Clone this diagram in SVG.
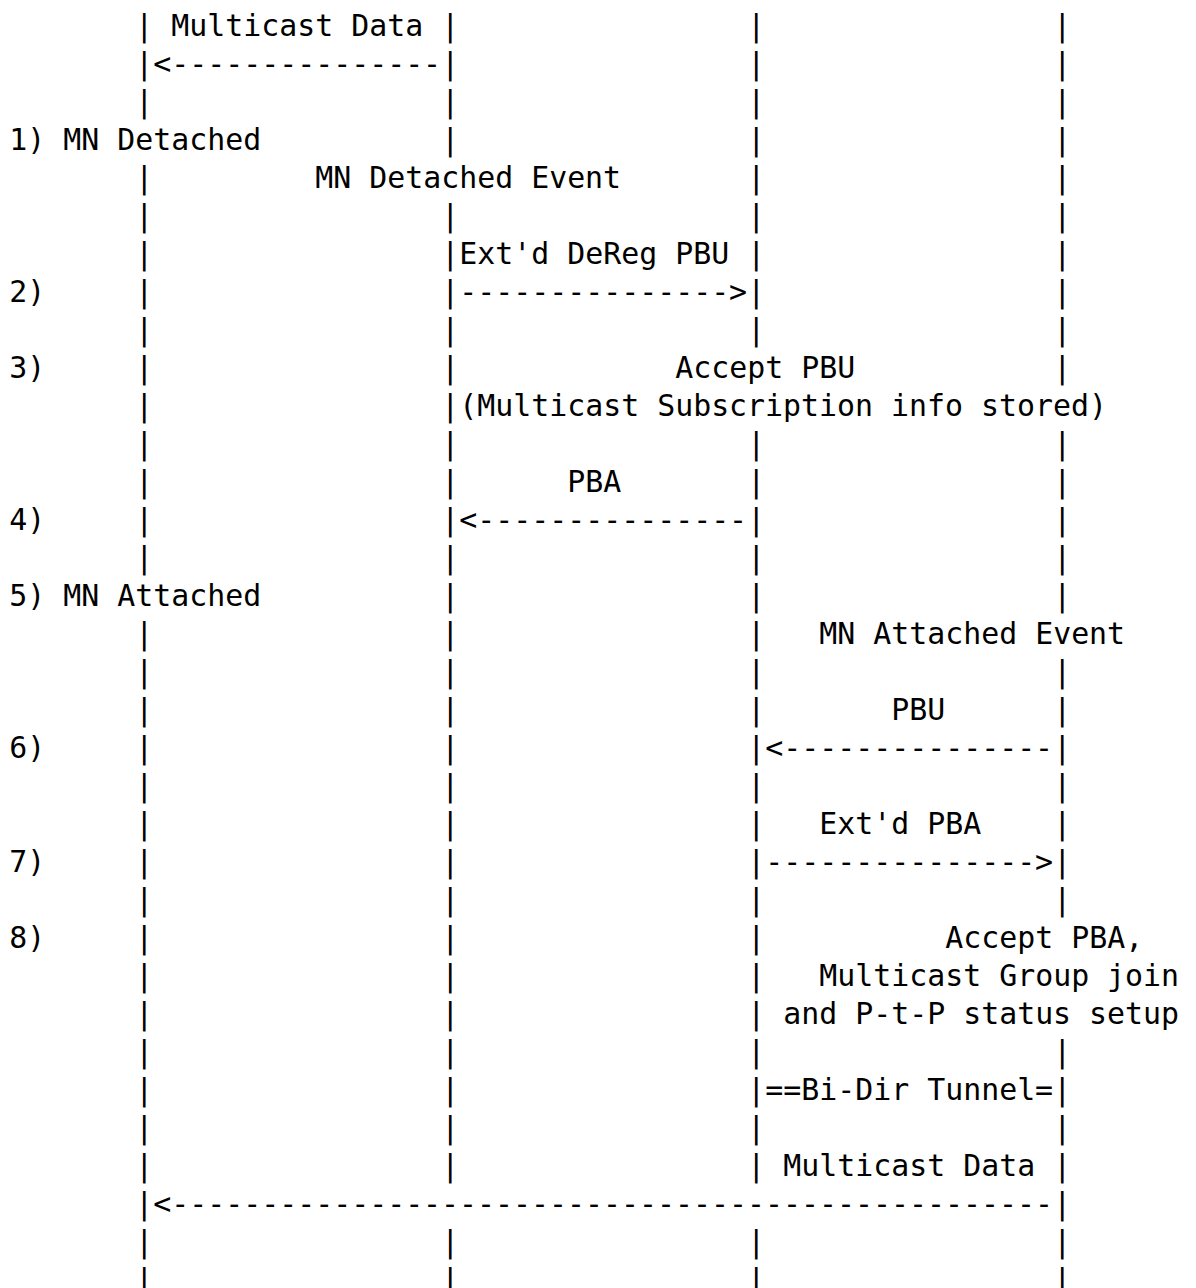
<svg xmlns="http://www.w3.org/2000/svg" width="1196" height="1288" viewBox="0 0 1196 1288">
<style>
text{font-family:"DejaVu Sans Mono","Liberation Mono",monospace;font-size:29.9px;fill:#000;white-space:pre}
</style>
<rect width="1196" height="1288" fill="#fff"/>
<g id="lifeline-1">
<text x="135.2"><tspan x="135.2" y="35.5">|</tspan><tspan x="135.2" y="73.5">|</tspan><tspan x="135.2" y="111.5">|</tspan><tspan x="135.2" y="187.5">|</tspan><tspan x="135.2" y="225.5">|</tspan><tspan x="135.2" y="263.5">|</tspan><tspan x="135.2" y="301.5">|</tspan><tspan x="135.2" y="339.5">|</tspan><tspan x="135.2" y="377.5">|</tspan><tspan x="135.2" y="415.5">|</tspan><tspan x="135.2" y="453.5">|</tspan><tspan x="135.2" y="491.5">|</tspan><tspan x="135.2" y="529.5">|</tspan><tspan x="135.2" y="567.5">|</tspan><tspan x="135.2" y="643.5">|</tspan><tspan x="135.2" y="681.5">|</tspan><tspan x="135.2" y="719.5">|</tspan><tspan x="135.2" y="757.5">|</tspan><tspan x="135.2" y="795.5">|</tspan><tspan x="135.2" y="833.5">|</tspan><tspan x="135.2" y="871.5">|</tspan><tspan x="135.2" y="909.5">|</tspan><tspan x="135.2" y="947.5">|</tspan><tspan x="135.2" y="985.5">|</tspan><tspan x="135.2" y="1023.5">|</tspan><tspan x="135.2" y="1061.5">|</tspan><tspan x="135.2" y="1099.5">|</tspan><tspan x="135.2" y="1137.5">|</tspan><tspan x="135.2" y="1175.5">|</tspan><tspan x="135.2" y="1213.5">|</tspan><tspan x="135.2" y="1251.5">|</tspan><tspan x="135.2" y="1289.5">|</tspan></text>
</g>
<g id="lifeline-2">
<text x="441.2"><tspan x="441.2" y="35.5">|</tspan><tspan x="441.2" y="73.5">|</tspan><tspan x="441.2" y="111.5">|</tspan><tspan x="441.2" y="149.5">|</tspan><tspan x="441.2" y="225.5">|</tspan><tspan x="441.2" y="263.5">|</tspan><tspan x="441.2" y="301.5">|</tspan><tspan x="441.2" y="339.5">|</tspan><tspan x="441.2" y="377.5">|</tspan><tspan x="441.2" y="415.5">|</tspan><tspan x="441.2" y="453.5">|</tspan><tspan x="441.2" y="491.5">|</tspan><tspan x="441.2" y="529.5">|</tspan><tspan x="441.2" y="567.5">|</tspan><tspan x="441.2" y="605.5">|</tspan><tspan x="441.2" y="643.5">|</tspan><tspan x="441.2" y="681.5">|</tspan><tspan x="441.2" y="719.5">|</tspan><tspan x="441.2" y="757.5">|</tspan><tspan x="441.2" y="795.5">|</tspan><tspan x="441.2" y="833.5">|</tspan><tspan x="441.2" y="871.5">|</tspan><tspan x="441.2" y="909.5">|</tspan><tspan x="441.2" y="947.5">|</tspan><tspan x="441.2" y="985.5">|</tspan><tspan x="441.2" y="1023.5">|</tspan><tspan x="441.2" y="1061.5">|</tspan><tspan x="441.2" y="1099.5">|</tspan><tspan x="441.2" y="1137.5">|</tspan><tspan x="441.2" y="1175.5">|</tspan><tspan x="441.2" y="1251.5">|</tspan><tspan x="441.2" y="1289.5">|</tspan></text>
</g>
<g id="lifeline-3">
<text x="747.2"><tspan x="747.2" y="35.5">|</tspan><tspan x="747.2" y="73.5">|</tspan><tspan x="747.2" y="111.5">|</tspan><tspan x="747.2" y="149.5">|</tspan><tspan x="747.2" y="187.5">|</tspan><tspan x="747.2" y="225.5">|</tspan><tspan x="747.2" y="263.5">|</tspan><tspan x="747.2" y="301.5">|</tspan><tspan x="747.2" y="339.5">|</tspan><tspan x="747.2" y="453.5">|</tspan><tspan x="747.2" y="491.5">|</tspan><tspan x="747.2" y="529.5">|</tspan><tspan x="747.2" y="567.5">|</tspan><tspan x="747.2" y="605.5">|</tspan><tspan x="747.2" y="643.5">|</tspan><tspan x="747.2" y="681.5">|</tspan><tspan x="747.2" y="719.5">|</tspan><tspan x="747.2" y="757.5">|</tspan><tspan x="747.2" y="795.5">|</tspan><tspan x="747.2" y="833.5">|</tspan><tspan x="747.2" y="871.5">|</tspan><tspan x="747.2" y="909.5">|</tspan><tspan x="747.2" y="947.5">|</tspan><tspan x="747.2" y="985.5">|</tspan><tspan x="747.2" y="1023.5">|</tspan><tspan x="747.2" y="1061.5">|</tspan><tspan x="747.2" y="1099.5">|</tspan><tspan x="747.2" y="1137.5">|</tspan><tspan x="747.2" y="1175.5">|</tspan><tspan x="747.2" y="1251.5">|</tspan><tspan x="747.2" y="1289.5">|</tspan></text>
</g>
<g id="lifeline-4">
<text x="1053.2"><tspan x="1053.2" y="35.5">|</tspan><tspan x="1053.2" y="73.5">|</tspan><tspan x="1053.2" y="111.5">|</tspan><tspan x="1053.2" y="149.5">|</tspan><tspan x="1053.2" y="187.5">|</tspan><tspan x="1053.2" y="225.5">|</tspan><tspan x="1053.2" y="263.5">|</tspan><tspan x="1053.2" y="301.5">|</tspan><tspan x="1053.2" y="339.5">|</tspan><tspan x="1053.2" y="377.5">|</tspan><tspan x="1053.2" y="453.5">|</tspan><tspan x="1053.2" y="491.5">|</tspan><tspan x="1053.2" y="529.5">|</tspan><tspan x="1053.2" y="567.5">|</tspan><tspan x="1053.2" y="605.5">|</tspan><tspan x="1053.2" y="681.5">|</tspan><tspan x="1053.2" y="719.5">|</tspan><tspan x="1053.2" y="757.5">|</tspan><tspan x="1053.2" y="795.5">|</tspan><tspan x="1053.2" y="833.5">|</tspan><tspan x="1053.2" y="871.5">|</tspan><tspan x="1053.2" y="909.5">|</tspan><tspan x="1053.2" y="1061.5">|</tspan><tspan x="1053.2" y="1099.5">|</tspan><tspan x="1053.2" y="1137.5">|</tspan><tspan x="1053.2" y="1175.5">|</tspan><tspan x="1053.2" y="1213.5">|</tspan><tspan x="1053.2" y="1251.5">|</tspan><tspan x="1053.2" y="1289.5">|</tspan></text>
</g>
<g id="connectors">
<text x="153.2" y="73.5">&lt;---------------</text>
<text x="459.2" y="301.5">---------------&gt;</text>
<text x="459.2" y="529.5">&lt;---------------</text>
<text x="765.2" y="757.5">&lt;---------------</text>
<text x="765.2" y="871.5">---------------&gt;</text>
<text x="765.2" y="1099.5">==Bi-Dir Tunnel=</text>
<text x="153.2" y="1213.5">&lt;-------------------------------------------------</text>
</g>
<g id="steps">
<text x="9.2" y="149.5">1) MN Detached</text>
<text x="9.2" y="301.5">2)</text>
<text x="9.2" y="377.5">3)</text>
<text x="9.2" y="529.5">4)</text>
<text x="9.2" y="605.5">5) MN Attached</text>
<text x="9.2" y="757.5">6)</text>
<text x="9.2" y="871.5">7)</text>
<text x="9.2" y="947.5">8)</text>
</g>
<g id="labels">
<text x="171.2" y="35.5">Multicast Data</text>
<text x="315.2" y="187.5">MN Detached Event</text>
<text x="459.2" y="263.5">Ext'd DeReg PBU</text>
<text x="675.2" y="377.5">Accept PBU</text>
<text x="459.2" y="415.5">(Multicast Subscription info stored)</text>
<text x="567.2" y="491.5">PBA</text>
<text x="819.2" y="643.5">MN Attached Event</text>
<text x="891.2" y="719.5">PBU</text>
<text x="819.2" y="833.5">Ext'd PBA</text>
<text x="945.2" y="947.5">Accept PBA,</text>
<text x="819.2" y="985.5">Multicast Group join</text>
<text x="783.2" y="1023.5">and P-t-P status setup</text>
<text x="783.2" y="1175.5">Multicast Data</text>
</g>
</svg>
